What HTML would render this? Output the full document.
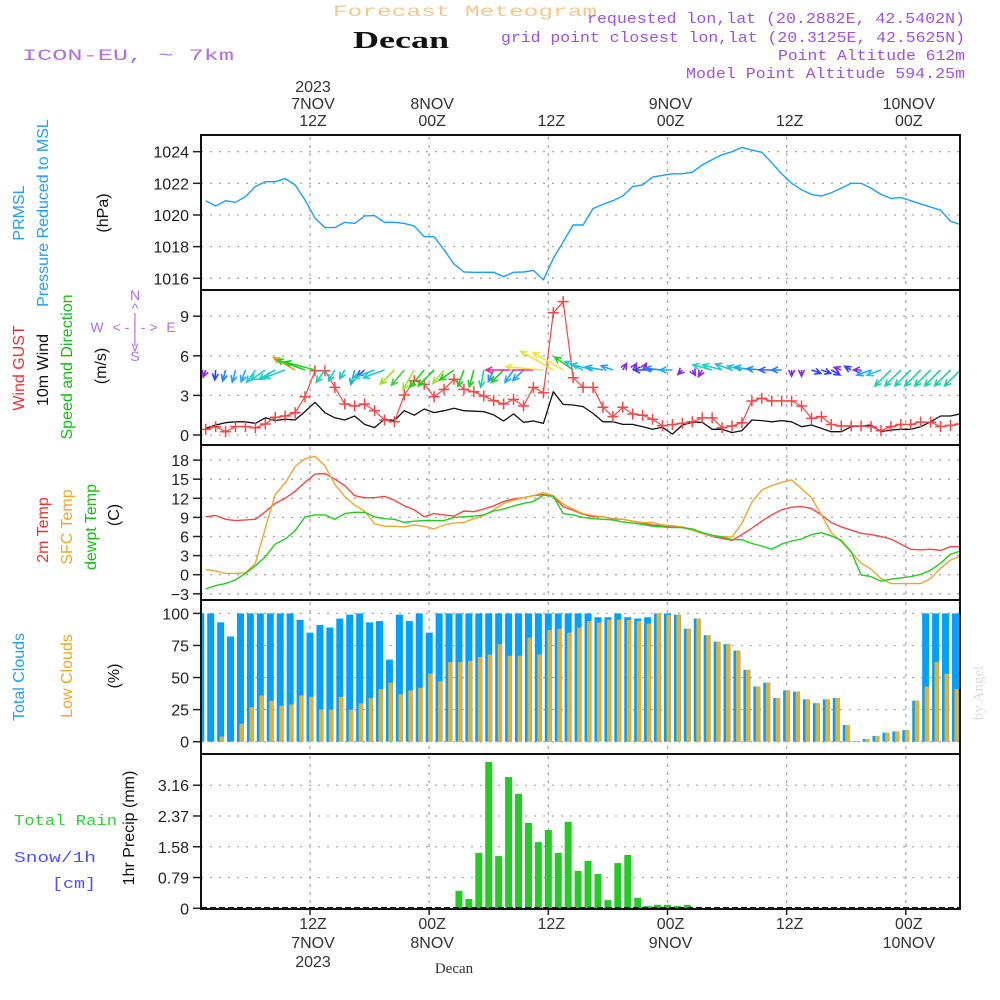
<!DOCTYPE html>
<html><head><meta charset="utf-8"><style>
html,body{margin:0;padding:0;background:#fff;width:1000px;height:1000px;overflow:hidden}
svg{display:block}
text{font-family:"Liberation Sans",sans-serif}
.mono{font-family:"Liberation Mono",monospace}
</style></head><body>
<svg id="chart" width="1000" height="1000" viewBox="0 0 1000 1000" xmlns="http://www.w3.org/2000/svg">
<defs><clipPath id="plotclip"><rect x="202" y="136" width="757" height="773"/></clipPath></defs>
<g id="header">
<text class="mono" x="333" y="16" font-size="16" fill="#f2c88e" textLength="264" lengthAdjust="spacingAndGlyphs">Forecast Meteogram</text>
<text x="353" y="48" font-size="24" font-weight="bold" fill="#111" textLength="96" lengthAdjust="spacingAndGlyphs" style="font-family:'Liberation Serif',serif">Decan</text>
<text class="mono" x="22" y="60" font-size="16" fill="#b070e0" textLength="212" lengthAdjust="spacingAndGlyphs">ICON-EU, ~ 7km</text>
<text class="mono" x="587" y="23" font-size="15" fill="#a050e0" textLength="378" lengthAdjust="spacingAndGlyphs">requested lon,lat (20.2882E, 42.5402N)</text>
<text class="mono" x="501" y="42" font-size="15" fill="#a050e0" textLength="464" lengthAdjust="spacingAndGlyphs">grid point closest lon,lat (20.3125E, 42.5625N)</text>
<text class="mono" x="778" y="60" font-size="15" fill="#a050e0" textLength="187" lengthAdjust="spacingAndGlyphs">Point Altitude 612m</text>
<text class="mono" x="686" y="78" font-size="15" fill="#a050e0" textLength="279" lengthAdjust="spacingAndGlyphs">Model Point Altitude 594.25m</text>
</g>
<g id="grid"></g>
<g id="marks" clip-path="url(#plotclip)"></g>
<g id="axes"></g>
<g id="labels">
<text transform="translate(24,213) rotate(-90)" text-anchor="middle" font-size="16" fill="#20a0f0">PRMSL</text>
<text transform="translate(48,213) rotate(-90)" text-anchor="middle" font-size="16" fill="#20a0f0">Pressure Reduced to MSL</text>
<text transform="translate(108,213) rotate(-90)" text-anchor="middle" font-size="16" fill="#111">(hPa)</text>
<text transform="translate(24,368) rotate(-90)" text-anchor="middle" font-size="16" fill="#f03030">Wind GUST</text>
<text transform="translate(48,370) rotate(-90)" text-anchor="middle" font-size="16" fill="#111">10m Wind</text>
<text transform="translate(72,367) rotate(-90)" text-anchor="middle" font-size="16" fill="#10c010">Speed and Direction</text>
<text transform="translate(106,366) rotate(-90)" text-anchor="middle" font-size="16" fill="#111">(m/s)</text>
<g fill="#b070e0" font-size="14" text-anchor="middle">
<text x="135" y="300">N</text><text x="135" y="313">^</text><text x="135" y="323">|</text>
<text x="97" y="332">W</text><text x="135" y="332">&lt; - | - &gt;</text><text x="171" y="332">E</text>
<text x="135" y="343">|</text><text x="135" y="351">v</text><text x="135" y="361">S</text>
</g>
<text transform="translate(48,530) rotate(-90)" text-anchor="middle" font-size="16" fill="#f03030">2m Temp</text>
<text transform="translate(72,527) rotate(-90)" text-anchor="middle" font-size="16" fill="#f0a820">SFC Temp</text>
<text transform="translate(96,527) rotate(-90)" text-anchor="middle" font-size="16" fill="#10c010">dewpt Temp</text>
<text transform="translate(119,515) rotate(-90)" text-anchor="middle" font-size="16" fill="#111">(C)</text>
<text transform="translate(24,677) rotate(-90)" text-anchor="middle" font-size="16" fill="#20a0f0">Total Clouds</text>
<text transform="translate(72,676) rotate(-90)" text-anchor="middle" font-size="16" fill="#f0a820">Low Clouds</text>
<text transform="translate(119,676) rotate(-90)" text-anchor="middle" font-size="16" fill="#111">(%)</text>
<text transform="translate(134,828) rotate(-90)" text-anchor="middle" font-size="16" fill="#111">1hr Precip (mm)</text>
<text class="mono" x="14" y="825" font-size="15" fill="#30d030" textLength="103" lengthAdjust="spacingAndGlyphs">Total  Rain</text>
<text class="mono" x="14" y="862" font-size="15" fill="#5050ff" textLength="82" lengthAdjust="spacingAndGlyphs">Snow/1h</text>
<text class="mono" x="52" y="888" font-size="15" fill="#5050ff" textLength="44" lengthAdjust="spacingAndGlyphs">[cm]</text>
<text x="454" y="973" text-anchor="middle" font-size="15" fill="#333" style="font-family:'Liberation Serif',serif">Decan</text>
<text transform="translate(983,693) rotate(-90)" text-anchor="middle" font-size="15" fill="#ddd" style="font-family:'Liberation Serif',serif">by Angel</text>
</g>
</svg>
<script>
// ---- data ----
const pressure = [1020.9,1020.57,1020.9,1020.8,1021.16,1021.8,1022.1,1022.1,1022.3,1021.9,1020.95,1019.8,1019.2,1019.2,1019.54,1019.47,1019.94,1019.96,1019.54,1019.54,1019.47,1019.3,1018.63,1018.63,1017.8,1016.9,1016.4,1016.38,1016.38,1016.38,1016.1,1016.38,1016.4,1016.5,1015.9,1017.26,1018.3,1019.37,1019.37,1020.4,
1020.67,1020.9,1021.2,1021.8,1021.9,1022.4,1022.5,1022.6,1022.6,1022.7,1023.16,1023.5,1023.8,1024.0,1024.27,1024.1,1023.96,1023.3,1022.6,1022.0,1021.6,1021.3,1021.2,1021.4,1021.7,1022.0,1022.0,1021.7,1021.3,1021.05,1021.1,1020.9,1020.7,1020.5,1020.3,1019.6,1019.4];
const gust = [0.43,0.63,0.25,0.63,0.63,0.55,0.83,1.34,1.44,1.69,2.9,4.87,4.87,3.61,2.35,2.2,2.35,1.84,1.14,1.0,3.03,4.11,3.84,2.9,3.46,4.22,3.46,3.28,2.95,2.6,2.35,2.7,2.2,3.61,3.2,9.26,10.1,4.34,3.61,3.61,
2.1,1.39,2.1,1.59,1.5,1.19,0.7,0.8,0.88,1.0,1.3,1.3,0.55,0.68,0.93,2.58,2.78,2.58,2.58,2.58,2.2,1.26,1.39,0.8,0.68,0.68,0.68,0.63,0.33,0.63,0.8,0.8,0.98,0.98,0.63,0.73,0.83];
const wind10 = [0.5,0.76,0.93,1.0,1.0,0.88,1.3,1.1,1.2,1.14,1.77,2.48,1.69,1.3,1.14,1.44,0.8,0.56,1.2,1.1,1.84,1.5,1.97,1.7,1.84,2.02,1.84,1.8,1.77,1.52,1.06,1.6,0.96,1.06,0.88,3.28,2.32,2.27,2.15,1.64,
1.0,1.0,0.8,0.8,0.63,0.43,0.58,0.07,0.76,0.96,0.96,0.43,0.43,0.18,0.33,1.14,1.09,1.0,1.09,1.0,0.63,0.76,0.5,0.25,0.25,0.63,0.68,0.76,0.25,0.38,0.43,0.43,0.63,1.0,1.44,1.44,1.6];
const windTo = [250,265,255,255,250,235,215,210,200,150,160,165,235,240,240,255,220,200,200,225,230,240,230,225,230,215,250,255,260,245,225,235,225,180,175,150,150,145,155,165,
170,160,60,60,60,180,175,180,225,300,240,165,165,160,165,170,175,180,180,270,270,340,340,330,160,150,180,200,200,225,225,225,225,225,225,225,225];
const windLen = [6,8,9,10,10,12,14,15,18,20,24,25,12,10,8,12,8,18,18,16,16,18,18,18,14,14,14,14,14,10,14,12,12,38,30,30,28,18,16,18,
14,10,6,6,6,15,14,10,5,5,6,16,16,14,12,14,12,10,8,5,5,8,8,8,6,6,6,12,12,18,18,18,18,18,18,18,18];
const windColor = ["#8a2be2","#3040ff","#2080ff","#20a0ff","#20a8ff","#20c8e0","#20d0b0","#20c8d0","#20c8d0","#f0a030","#20d020","#20d020","#20d0a0","#20c8d0","#20c0d0","#20b0c0","#4040ff","#20c8d0","#20c8d0","#a0e020","#40d040","#a0e040","#20d020","#20d020","#a0e040","#20d020","#20d020","#20d020","#20d0a0","#2090ff","#20d020","#20a8ff","#20a8ff","#ff2090","#f0e040","#f0e040","#f0e040","#20d020","#20c8e0","#20c8e0",
"#20a8ff","#20a8ff","#8a2be2","#8a2be2","#8a2be2","#3040ff","#2080ff","#20a8ff","#8a2be2","#8a2be2","#8a2be2","#20d0c0","#20d0c0","#20c8d0","#20c8d0","#20a8ff","#2090ff","#3060ff","#2080ff","#8a2be2","#8a2be2","#3040ff","#3040ff","#3040ff","#8a2be2","#3040ff","#8a2be2","#20a8ff","#20c8e0","#20d0a0","#20d0a0","#20d0a0","#20d0a0","#20d0a0","#20d0a0","#20d0a0","#20d0a0"];
const temp2m = [9.1,9.3,8.7,8.5,8.6,8.7,9.9,11.2,12.0,13.1,14.5,15.8,15.9,15.0,14.0,12.4,12.1,12.1,12.3,11.7,10.8,10.2,9.1,9.6,9.4,9.2,10.0,9.9,10.3,10.8,11.5,11.9,12.1,12.4,12.6,12.3,10.7,10.1,9.5,9.1,
9.1,8.8,8.7,8.4,8.1,7.8,7.7,7.5,7.4,7.0,6.5,6.0,5.7,5.4,6.3,7.3,8.4,9.4,10.2,10.6,10.7,10.4,9.4,8.2,7.5,7.0,6.5,6.3,6.0,5.6,4.8,4.0,3.9,4.0,3.8,4.4,4.4];
const sfcTemp = [0.84,0.58,0.2,0.2,0.3,1.8,7.3,12.6,14.4,17.0,18.2,18.6,17.1,14.2,12.3,10.9,10.0,8.0,7.6,7.6,7.5,7.8,7.6,7.2,7.8,8.1,8.2,8.8,9.3,10.2,11.2,11.7,12.1,12.4,12.9,12.4,11.1,10.3,9.6,9.3,
9.1,8.7,8.7,8.4,8.2,8.2,7.8,7.7,7.5,7.0,6.5,6.1,6.0,5.9,8.1,11.4,13.3,14.0,14.5,14.9,13.5,12.1,9.4,6.6,5.2,3.5,1.8,0.9,-0.6,-1.4,-1.4,-1.4,-1.4,-0.6,1.0,2.3,2.9];
const dewpt = [-2.25,-1.7,-1.4,-0.8,0.2,1.4,2.8,4.8,5.6,6.9,9.1,9.4,9.4,8.7,9.6,9.8,9.8,9.1,8.8,8.7,8.2,8.4,8.5,8.5,8.5,9.0,9.1,9.2,9.4,10.0,10.3,10.8,11.2,11.5,12.5,12.3,9.6,9.4,9.0,8.8,
8.7,8.6,8.3,8.1,7.9,7.6,7.5,7.4,7.4,7.2,6.6,6.2,5.9,5.5,5.5,4.9,4.5,4.0,4.8,5.3,5.6,6.3,6.6,6.1,5.4,3.6,-0.05,-0.3,-1.0,-0.7,-0.5,-0.3,0.05,0.7,1.8,3.2,3.7];
const totalClouds = [100,100,93,82,100,100,100,100,100,100,95,85,91,89,96,99,100,93,94,64,99,94,100,85,100,100,100,100,100,100,100,100,100,100,100,100,100,100,100,100,
97,97,100,97,96,97,100,100,99,88,96,83,78,76,71,56,43,46,34,40,39,33,30,33,34,13,0.5,2,4.5,7,8,9,32,100,100,100,100];
const lowClouds = [0,0,4,0,14,27,36,32,28,29,36,35,25,25,35,25,30,34,41,46,37,40,42,53,47,62,62,63,66,68,76,67,67,81,68,87,88,85,89,94,
93,95,95,95,94,92,100,99,99,88,96,83,78,76,71,56,43,46,34,40,39,33,30,33,34,13,0.5,2,4.5,7,8,9,32,43,62,53,41];
const precipHours = [27,28,29,30,31,32,33,34,35,36,37,38,39,40,41,42,43,44,45,46,47,48,49,50];
const precipValues = [0.45,0.24,1.42,3.76,1.34,3.37,2.94,2.19,1.70,2.01,1.42,2.22,0.96,1.22,0.88,0.21,1.16,1.37,0.27,0.06,0.09,0.09,0.06,0.09];
const pressTicks = [1016,1018,1020,1022,1024];
const windTicks = [0,3,6,9];
const tempTicks = [-3,0,3,6,9,12,15,18];
const cloudTicks = [0,25,50,75,100];
const precipTicks = [0,0.79,1.58,2.37,3.16];
const timeTickHours = [12,24,36,48,60,72];
const topTimeLabels = [["2023","7NOV","12Z"],["","8NOV","00Z"],["","","12Z"],["","9NOV","00Z"],["","","12Z"],["","10NOV","00Z"]];
const bottomTimeLabels = [["12Z","7NOV","2023"],["00Z","8NOV",""],["12Z","",""],["00Z","9NOV",""],["12Z","",""],["00Z","10NOV",""]];

// ---- scales ----
const X0 = 201, X1 = 960;
function xh(h){ return 310 + (h-12)*9.93; }
function yP(v){ return 278.3 - (v-1016)*15.83; }
function yW(v){ return 435 - v*13.2; }
function yT(v){ return 574.7 - v*6.367; }
function yC(v){ return 741.7 - v*1.283; }
function yR(v){ return 908.3 - v*38.95; }
const panels = [
 {name:'pressure', top:135, bot:290, ticks:pressTicks, y:yP, fmt:v=>String(v)},
 {name:'wind', top:290, bot:445, ticks:windTicks, y:yW, fmt:v=>String(v)},
 {name:'temp', top:445, bot:600, ticks:tempTicks, y:yT, fmt:v=>v<0?'\u2212'+(-v):String(v)},
 {name:'clouds', top:600, bot:754, ticks:cloudTicks, y:yC, fmt:v=>String(v)},
 {name:'precip', top:754, bot:909, ticks:precipTicks, y:yR, fmt:v=>v===0?'0':v.toFixed(2)}
];
const NS='http://www.w3.org/2000/svg';
function mk(tag, attrs, parent){ const e=document.createElementNS(NS,tag); for(const k in attrs) e.setAttribute(k,attrs[k]); parent.appendChild(e); return e; }
const grid=document.getElementById('grid'), marks=document.getElementById('marks'), axes=document.getElementById('axes');

panels.forEach(p=>{
  p.ticks.forEach(t=>{
    const y=p.y(t);
    const g=mk('line',{x1:X0,x2:X1,y1:y,y2:y,stroke:'#aaa','stroke-width':1.3,'stroke-dasharray':'2,7'},grid);
    
    
    const tk=mk('line',{x1:X0-8,x2:X0,y1:y,y2:y,stroke:'#222','stroke-width':1.5},axes);
    
    
    const tl=mk('text',{x:X0-12,y:y+6,'text-anchor':'end','font-size':16,fill:'#222'},axes);
    tl.textContent=p.fmt(t);
    
    
  });
  timeTickHours.forEach(h=>{
    const x=xh(h);
    const v=mk('line',{x1:x,x2:x,y1:p.top+2,y2:p.bot-2,stroke:'#aaa','stroke-width':1.3,'stroke-dasharray':'3,5'},grid);
    
    
  });
  const b=mk('rect',{x:X0,y:p.top,width:X1-X0,height:p.bot-p.top,fill:'none',stroke:'#111','stroke-width':2},axes);
  
  
});
timeTickHours.forEach((h,i)=>{
  const x=xh(h)+3;
  topTimeLabels[i].forEach((s,j)=>{ if(!s) return;
    const t=mk('text',{x:x,y:92+j*17,'text-anchor':'middle','font-size':16,fill:'#333'},axes); t.textContent=s;
    
    
  });
  bottomTimeLabels[i].forEach((s,j)=>{ if(!s) return;
    const t=mk('text',{x:x,y:929+j*19,'text-anchor':'middle','font-size':16,fill:'#333'},axes); t.textContent=s;
    
    
  });
  const tk=mk('line',{x1:x-3,x2:x-3,y1:909,y2:915,stroke:'#222','stroke-width':1.5},axes);
  
  
});

function lineOf(vals, yf, color, name, w){
  const pts=vals.map((v,i)=>xh(i+1.5).toFixed(1)+','+yf(v).toFixed(1)).join(' ');
  const l=mk('polyline',{points:pts,fill:'none',stroke:color,'stroke-width':w||1.4,'stroke-linejoin':'round'},marks);
  
  
}
lineOf(pressure, yP, '#1aa0f8', 'pressure-line', 1.4);
lineOf(wind10, yW, '#111', 'wind10m-line', 1.3);
lineOf(gust, yW, '#f04848', 'gust-line', 1.2);
gust.forEach((v,i)=>{
  const x=xh(i+1.5), y=yW(v);
  const m=mk('path',{d:`M${x-5.5},${y}H${x+5.5}M${x},${y-5.5}V${y+5.5}`,stroke:'#f04848','stroke-width':1.5},marks);
  
  
});
windTo.forEach((a,i)=>{
  const x=xh(i+1.5), y=370, L=windLen[i]*1.25, r=a*Math.PI/180;
  const hx=x+L*Math.cos(r), hy=y-L*Math.sin(r);
  const back=r+Math.PI, hl=7;
  const p1x=hx+hl*Math.cos(back+0.45), p1y=hy-hl*Math.sin(back+0.45);
  const p2x=hx+hl*Math.cos(back-0.45), p2y=hy-hl*Math.sin(back-0.45);
  const ar=mk('path',{d:`M${x},${y}L${hx},${hy}M${p1x},${p1y}L${hx},${hy}L${p2x},${p2y}`,stroke:windColor[i],'stroke-width':1.6,fill:'none'},marks);
  
  
});
lineOf(temp2m, yT, '#f04848', 'temp-2m-line', 1.4);
lineOf(sfcTemp, yT, '#eaa830', 'sfc-temp-line', 1.4);
lineOf(dewpt, yT, '#22cc22', 'dewpoint-line', 1.4);
totalClouds.forEach((v,i)=>{
  const x=xh(i+1);
  const b=mk('rect',{x:x-3.5,y:yC(v),width:7,height:yC(0)-yC(v),fill:'#00a0ff'},marks);
  
  
});
lowClouds.forEach((v,i)=>{
  const x=xh(i+1);
  const b=mk('rect',{x:x-1,y:yC(v),width:4.3,height:yC(0)-yC(v),fill:'#e8b030'},marks);
  
  
});
precipHours.forEach((h,i)=>{
  const x=xh(h), v=precipValues[i];
  const b=mk('rect',{x:x-3.5,y:yR(v),width:7,height:yR(0)-yR(v),fill:'#22cc22'},marks);
  
  
});
const base=mk('line',{x1:X0,x2:X1,y1:908,y2:908,stroke:'#111','stroke-width':2,'stroke-dasharray':'6,3'},marks);


</script>
</body></html>
